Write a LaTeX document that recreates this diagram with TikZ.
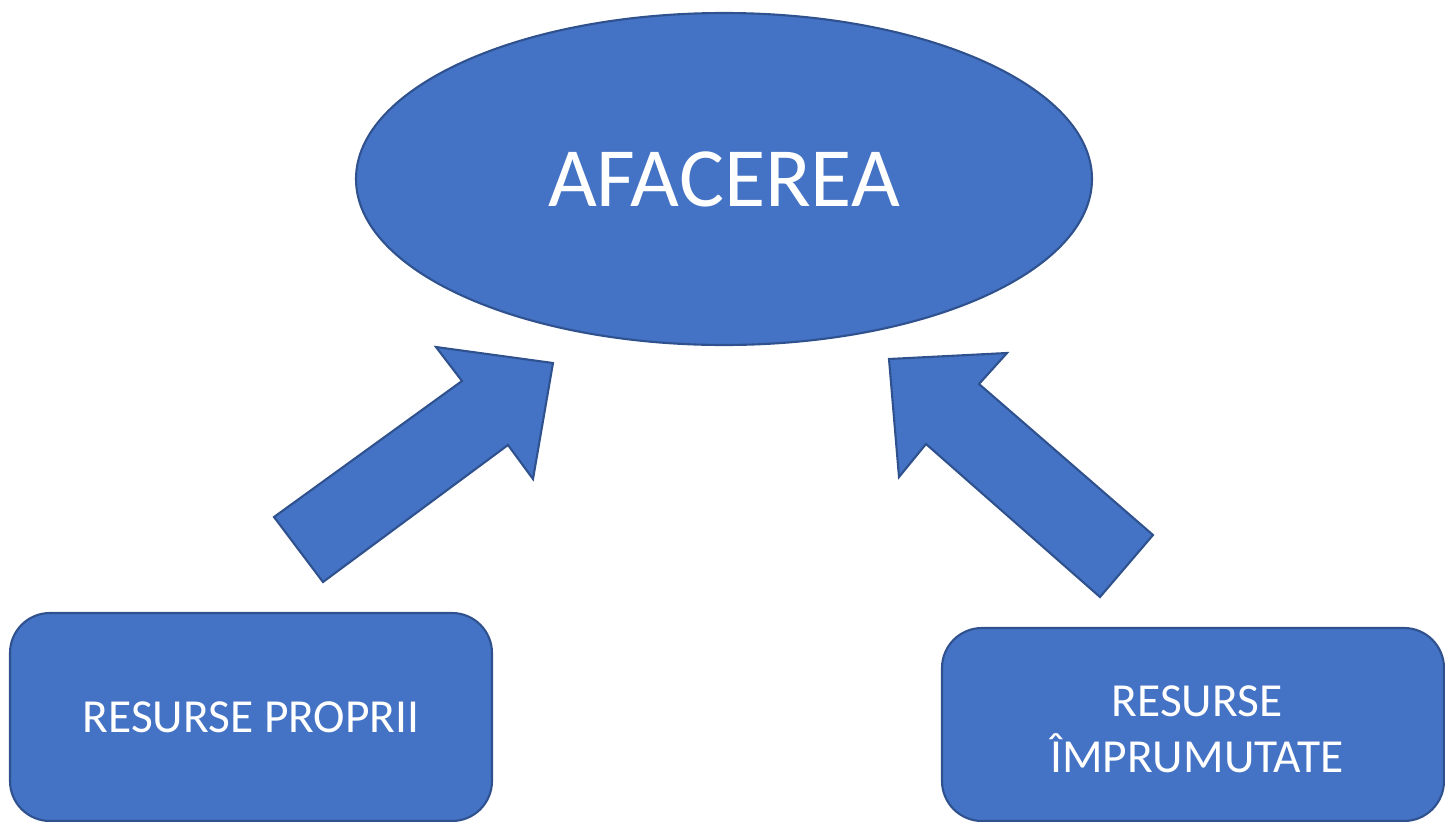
\documentclass[tikz,border=0pt]{standalone}
\usepackage{fontspec}
\setmainfont{Carlito}
\usetikzlibrary{shapes.geometric}
\definecolor{boxblue}{HTML}{4472C4}
\definecolor{edgeblue}{HTML}{2F528F}
\begin{document}
\begin{tikzpicture}[
        x=0.02cm, y=-0.02cm,
        blob/.style={ellipse, draw=edgeblue, fill=boxblue, line width=1.2pt, text=white,
            minimum width=736*0.02cm, minimum height=332*0.02cm, inner sep=0pt},
        resbox/.style={rectangle, rounded corners=0.8cm, draw=edgeblue, fill=boxblue, line width=1.2pt,
            text=white, align=center, font=\fontsize{27}{32}\selectfont},
        blockarrow/.style={draw=edgeblue, fill=boxblue, line width=1.2pt, line join=miter}
    ]
        \useasboundingbox (0,0) rectangle (1445,822);
        \clip (0,0) rectangle (1445,822);

        % Central ellipse
        \node[blob, font=\fontsize{48}{58}\selectfont] (afacerea) at (724,179) {AFACEREA};

        % Resource boxes
        \node[resbox, minimum width=482*0.02cm, minimum height=208*0.02cm] (proprii) at (251,717) {RESURSE PROPRII};
        \node[resbox, minimum width=502*0.02cm, minimum height=193*0.02cm] (imprumutate) at (1193,724.5) {};
        \node[font=\fontsize{27}{32}\selectfont, text=white, align=center] (imprtext) at (1197,729) {RESURSE\\ÎMPRUMUTATE};

        % Block arrows
        \draw[blockarrow] (274,517) -- (462,381) -- (436,347) -- (553,363)
            -- (533,479) -- (508,445) -- (323,582) -- cycle;
        \draw[blockarrow] (1153,535) -- (979,384) -- (1007,353) -- (889,359)
            -- (899,477) -- (926,444) -- (1100,597) -- cycle;
\end{tikzpicture}
\end{document}
